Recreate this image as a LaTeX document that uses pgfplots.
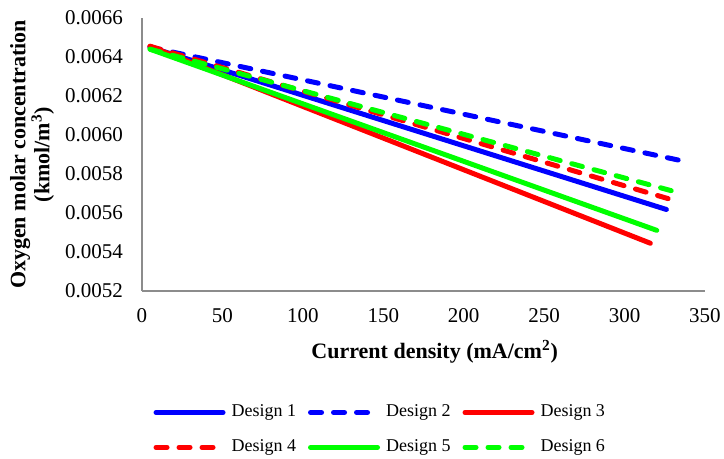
\documentclass[border=0pt]{standalone}
\usepackage{pgfplots}
\pgfplotsset{compat=1.18}
\usepackage{fontspec}
\setmainfont{Liberation Serif}
\definecolor{pblue}{RGB}{0,0,255}
\definecolor{pred}{RGB}{255,0,0}
\definecolor{pgreen}{RGB}{0,255,0}
\begin{document}
\begin{tikzpicture}
\useasboundingbox (-71pt,-84pt) rectangle (291pt,145.5pt);
\begin{axis}[
  at={(0,0)}, anchor=south west,
  scale only axis, width=281.5pt, height=136.5pt,
  xmin=0, xmax=350, ymin=0.0052, ymax=0.0066,
  xtick={0,50,100,150,200,250,300,350},
  ytick={0.0052,0.0054,0.0056,0.0058,0.0060,0.0062,0.0064,0.0066},
  scaled y ticks=false,
  axis x line*=bottom, axis y line*=left,
  axis line style={draw=black!45, line width=0.75pt, -},
  major tick length=0pt,
  /pgf/number format/assume math mode=true,
  yticklabel style={/pgf/number format/fixed, /pgf/number format/fixed zerofill, /pgf/number format/precision=4, xshift=-6pt},
  ticklabel style={font=\fontsize{10.5}{12}\selectfont},
  xticklabel style={yshift=-5pt},
  xlabel={\textbf{Current density (mA/cm\textsuperscript{2})}},
  ylabel={\textbf{Oxygen molar concentration}\\\textbf{(kmol/m\textsuperscript{3})}},
  label style={font=\fontsize{11}{12}\selectfont},
  xlabel style={at={(axis description cs:0.52,-0.2234)}, anchor=center},
  ylabel style={at={(axis description cs:-0.195,0.5)}, anchor=center, align=center},
  legend columns=3,
  legend style={at={(axis description cs:0.425,-0.509)}, anchor=center, draw=none, fill=none,
    font=\fontsize{9}{10}\selectfont, row sep=6pt,
    /tikz/every odd column/.append style={column sep=1pt},
    /tikz/every even column/.append style={column sep=4pt}},
  legend cell align=left,
  legend image code/.code={\draw[#1, line cap=round] (1.25pt,0pt) -- (34.75pt,0pt);},
  every axis plot/.append style={line width=2.5pt, line cap=round},
]
\addplot[pblue, solid] coordinates {(5,0.00645) (326,0.005618)};
\addlegendentry{Design 1}
\addplot[pblue, dash pattern=on 5.5pt off 6pt] coordinates {(5,0.00645) (336,0.005867)};
\addlegendentry{Design 2}
\addplot[pred, solid] coordinates {(5,0.006455) (316,0.005445)};
\addlegendentry{Design 3}
\addplot[pred, dash pattern=on 5.5pt off 6pt] coordinates {(5,0.006455) (329,0.005669)};
\addlegendentry{Design 4}
\addplot[pgreen, solid] coordinates {(5,0.00644) (320,0.005511)};
\addlegendentry{Design 5}
\addplot[pgreen, dash pattern=on 5.5pt off 6pt] coordinates {(5,0.00644) (331,0.00571)};
\addlegendentry{Design 6}
\end{axis}
\end{tikzpicture}
\end{document}
